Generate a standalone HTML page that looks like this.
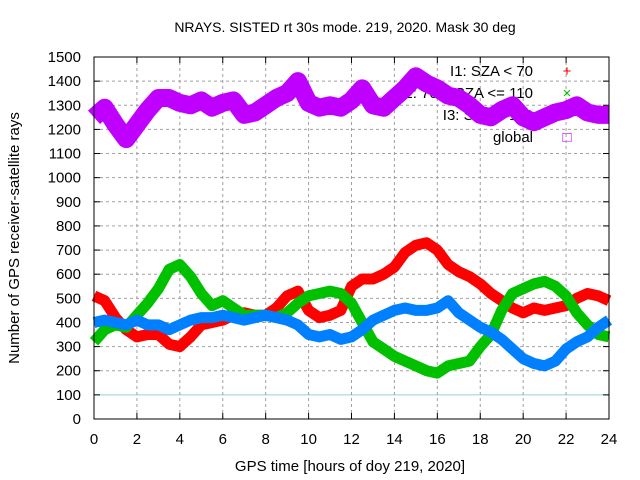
<!DOCTYPE html>
<html><head><meta charset="utf-8"><style>
html,body{margin:0;padding:0;background:#fff;}
svg{display:block;font-family:"Liberation Sans",sans-serif;}
</style></head><body>
<svg id="chart" width="640" height="480" viewBox="0 0 640 480">
<text x="345" y="32" font-size="14" text-anchor="middle">NRAYS. SISTED rt 30s mode. 219, 2020. Mask 30 deg</text>
<g id="grid"></g><g id="axes"></g><g id="legend"></g><g id="series"></g>
<rect x="94" y="57" width="515" height="362" fill="none" stroke="#000" stroke-width="1"/>
<text x="350" y="471" font-size="15" text-anchor="middle">GPS time [hours of doy 219, 2020]</text>
<text transform="translate(19,238) rotate(-90)" font-size="15" text-anchor="middle">Number of GPS receiver-satellite rays</text>
</svg>
<script>
const hours=[0,0.5,1,1.5,2,2.5,3,3.5,4,4.5,5,5.5,6,6.5,7,7.5,8,8.5,9,9.5,10,10.5,11,11.5,12,12.5,13,13.5,14,14.5,15,15.5,16,16.5,17,17.5,18,18.5,19,19.5,20,20.5,21,21.5,22,22.5,23,23.5,24];
const i1=[510,490,420,370,340,350,350,310,300,340,390,400,410,430,440,430,430,460,510,530,450,420,430,450,550,580,580,600,630,690,720,730,700,640,610,590,560,520,490,460,440,460,450,460,470,500,520,510,490];
const i2=[320,370,390,380,430,480,540,620,640,590,520,470,490,460,430,430,430,420,440,480,510,520,530,520,480,400,320,290,260,240,220,200,190,220,230,240,300,350,450,520,540,560,570,550,510,440,390,350,340];
const i3=[400,410,400,390,410,390,390,370,390,410,420,420,430,420,410,420,430,420,410,390,350,340,350,330,340,370,410,430,450,460,450,450,460,490,440,410,380,360,330,290,250,230,220,240,290,320,340,380,410];
const glob=[1250,1290,1220,1160,1220,1280,1330,1330,1310,1300,1320,1290,1310,1320,1260,1270,1300,1330,1350,1400,1310,1290,1300,1290,1320,1370,1300,1290,1330,1370,1420,1390,1370,1340,1330,1300,1260,1250,1280,1300,1250,1230,1250,1270,1280,1300,1270,1260,1260];
const yTicks=[0,100,200,300,400,500,600,700,800,900,1000,1100,1200,1300,1400,1500];
const xTicks=[0,2,4,6,8,10,12,14,16,18,20,22,24];
const legendLabels=["I1: SZA < 70","I2: 70 < SZA <= 110","I3: SZA > 110","global"];
const NS="http://www.w3.org/2000/svg";
const X0=94,X1=609,Y0=419,Y1=57;
const xs=h=>X0+(h/24)*(X1-X0);
const ys=v=>Y0-(v/1500)*(Y0-Y1);
function mk(tag,attrs,parent){const e=document.createElementNS(NS,tag);for(const k in attrs)e.setAttribute(k,attrs[k]);parent.appendChild(e);return e;}
const grid=document.getElementById('grid'),axes=document.getElementById('axes');
yTicks.forEach(v=>{
  const y=ys(v);
  if(v>0&&v<1500&&v!==100){const l=mk('line',{x1:X0,x2:X1,y1:y,y2:y,stroke:'#a0a0a0','stroke-dasharray':'3,3'},grid);
  
  }
  const t=mk('line',{x1:X0,x2:X0+6,y1:y,y2:y,stroke:'#000'},axes);
  
  
  const t2=mk('line',{x1:X1-6,x2:X1,y1:y,y2:y,stroke:'#000'},axes);
  
  
  const tx=mk('text',{x:X0-13,y:y+5,'font-size':15,'text-anchor':'end'},axes);tx.textContent=v;
  
  
});
const ref=mk('line',{x1:X0,x2:X1,y1:ys(100),y2:ys(100),stroke:'#9ad0d4'},grid);


xTicks.forEach(h=>{
  const x=xs(h);
  if(h>0&&h<24){const l=mk('line',{x1:x,x2:x,y1:Y0,y2:Y1,stroke:'#a0a0a0','stroke-dasharray':'3,3'},grid);
  
  }
  const t=mk('line',{x1:x,x2:x,y1:Y0,y2:Y0-6,stroke:'#000'},axes);
  
  
  const t2=mk('line',{x1:x,x2:x,y1:Y1,y2:Y1+6,stroke:'#000'},axes);
  
  
  const tx=mk('text',{x:x,y:Y0+25,'font-size':15,'text-anchor':'middle'},axes);tx.textContent=h;
  
  
});
const lg=document.getElementById('legend');
const lcolors=['#ff0000','#00c000','#0080ff','#c000ff'];
const glyphs=['+','\u00d7','*','\u25a1'];
legendLabels.forEach((s,i)=>{
  const y=76+i*22;
  const t=mk('text',{x:533,y:y,'font-size':15,'text-anchor':'end'},lg);t.textContent=s;
  
  
  const g=mk('text',{x:567,y:y,'font-size':15,'text-anchor':'middle',fill:lcolors[i]},lg);g.textContent=glyphs[i];
  
  
});
const sg=document.getElementById('series');
function draw(vals,color,w,name){
  const pts=hours.map((h,i)=>xs(h).toFixed(1)+','+ys(vals[i]).toFixed(1)).join(' ');
  const p=mk('polyline',{points:pts,fill:'none',stroke:color,'stroke-width':w,'stroke-linejoin':'round','stroke-linecap':'butt'},sg);
  
  
}
draw(i1,'#ff0000',11,'series-i1');
draw(i2,'#00c000',11,'series-i2');
draw(i3,'#0080ff',11,'series-i3');
draw(glob,'#c000ff',18,'series-global');
</script>
</body></html>
